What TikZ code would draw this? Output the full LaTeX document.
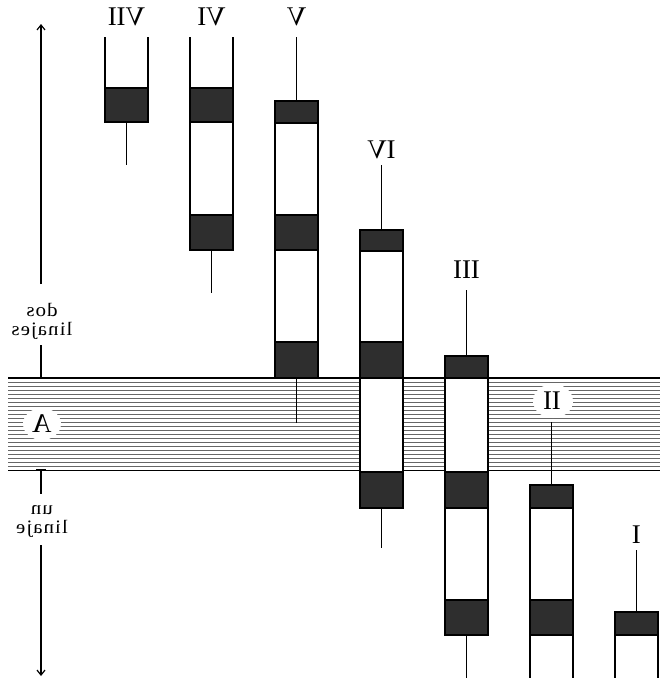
\documentclass[tikz,border=0pt]{standalone}
\usepackage{graphicx}
\usepackage{fontspec}
\setmainfont{Liberation Serif}
\newfontfamily\spacedserif[LetterSpace=5]{Liberation Serif}
\usetikzlibrary{arrows.meta}
\tikzset{
  dark/.style={fill=black!82, draw=black, line width=1.8pt},
  pale/.style={fill=white, draw=black, line width=1.8pt},
  side/.style={draw=black, line width=1.8pt},
  stem/.style={draw=black, line width=1.7pt},
  hatch/.style={draw=black!60, line width=0.6pt},
  numeral/.style={font=\fontsize{27}{27}\selectfont, inner sep=1pt},
  note/.style={font=\spacedserif\fontsize{19}{19}\selectfont, align=center, inner sep=0pt},
  clearing/.style={fill=white, draw=none},
  axis/.style={draw=black, line width=1.2pt},
}
% mirrored lettering
\newcommand\mirrortext[1]{\scalebox{-1}[1]{#1}}
\newcommand\mirrorwide[1]{\scalebox{-1.1}[1]{#1}}

\begin{document}
\begin{tikzpicture}[x=1pt,y=-1pt]
\useasboundingbox (0,0) rectangle (668,678);

% ---- hatched band ----
\foreach \yy in {382,386,...,466}
  \draw[hatch] (8,\yy) -- (660,\yy);
\draw[line width=1.8pt] (8,378) -- (660,378);
\draw[line width=1pt] (8,470) -- (660,470);

% clearings in the band for the labels
\fill[clearing] (42,424) ellipse [x radius=19, y radius=16];
\fill[clearing] (553,401) ellipse [x radius=20, y radius=17];

% ---- column VII ----
\draw[side] (105,37) -- (105,88) (148,37) -- (148,88);
\draw[dark] (105,88) rectangle (148,122);
\coordinate (s7a) at (126.5,122); \coordinate (s7b) at (126.5,165);
\draw[stem] (s7a) -- (s7b);

% ---- column VI ----
\draw[side] (190,37) -- (190,88) (233,37) -- (233,88);
\draw[dark] (190,88) rectangle (233,122);
\draw[pale] (190,122) rectangle (233,215);
\draw[dark] (190,215) rectangle (233,250);
\coordinate (s6a) at (211.5,250); \coordinate (s6b) at (211.5,293);
\draw[stem] (s6a) -- (s6b);

% ---- column V ----
\coordinate (s5a) at (296.5,37); \coordinate (s5b) at (296.5,101);
\draw[stem] (s5a) -- (s5b);
\draw[dark] (275,101) rectangle (318,123);
\draw[pale] (275,123) rectangle (318,215);
\draw[dark] (275,215) rectangle (318,250);
\draw[pale] (275,250) rectangle (318,342);
\draw[dark] (275,342) rectangle (318,378);
\coordinate (s5c) at (296.5,378); \coordinate (s5d) at (296.5,423);
\draw[stem] (s5c) -- (s5d);

% ---- column IV ----
\draw[dark] (360,230) rectangle (403,251);
\draw[pale] (360,251) rectangle (403,342);
\draw[dark] (360,342) rectangle (403,378);
\draw[pale] (360,378) rectangle (403,472);
\draw[dark] (360,472) rectangle (403,508);
\coordinate (s4b) at (381.5,508); \coordinate (s4c) at (381.5,548);
\draw[stem] (s4b) -- (s4c);

% ---- column III ----
\draw[dark] (445,356) rectangle (488,378);
\draw[pale] (445,378) rectangle (488,472);
\draw[dark] (445,472) rectangle (488,508);
\draw[pale] (445,508) rectangle (488,600);
\draw[dark] (445,600) rectangle (488,635);
\coordinate (s3b) at (466.5,635); \coordinate (s3c) at (466.5,678);
\draw[stem] (s3b) -- (s3c);

% ---- column II ----
\draw[dark] (530,485) rectangle (573,508);
\draw[pale] (530,508) rectangle (573,600);
\draw[dark] (530,600) rectangle (573,635);
\draw[side] (530,635) -- (530,678) (573,635) -- (573,678);

% ---- column I ----
\draw[dark] (615,612) rectangle (658,635);
\draw[side] (615,635) -- (615,678) (658,635) -- (658,678);

% ---- numerals ----
\node[numeral] (n7) at (126.5,17) {\mirrortext{VII}};
\node[numeral] (n6) at (211.5,17) {\mirrortext{VI}};
\node[numeral] (n5) at (296.5,17) {\mirrortext{V}};
\node[numeral] (n4) at (381.5,150) {\mirrortext{IV}};
\node[numeral] (n3) at (466.5,270) {\mirrortext{III}};
\node[numeral] (n2) at (552,401) {\mirrortext{II}};
\node[numeral] (n1) at (636.5,535) {\mirrortext{I}};
\node[numeral] (na) at (42,424) {\mirrortext{A}};

% stems hanging from the upper numerals
\coordinate (s4a) at (381.5,165);
\draw[stem] (s4a) -- (381.5,230);
\coordinate (s3a) at (466.5,290);
\draw[stem] (s3a) -- (466.5,356);
\coordinate (s2a) at (551.5,422);
\draw[stem] (s2a) -- (551.5,485);
\coordinate (s1a) at (636.5,550);
\draw[stem] (s1a) -- (636.5,612);

% ---- lineage axis on the left ----
\node[note, anchor=base] (two) at (42,335) {\mirrorwide{dos}\\\mirrorwide{linajes}};
\node[note, anchor=base] (one) at (42,533) {\mirrorwide{un}\\\mirrorwide{linaje}};
\coordinate (top) at (41,24);
\coordinate (a1) at (41,284);
\coordinate (a2) at (41,345);
\coordinate (bandtop) at (41,378);
\coordinate (bandbot) at (41,470);
\coordinate (a3) at (41,494);
\coordinate (a4) at (41,545);
\coordinate (bot) at (41,676);
\draw[axis, -{Straight Barb[length=5pt,width=8pt]}] (a1) -- (top);
\draw[axis] (a2) -- (bandtop);
\draw[line width=2.4pt] (36,378) -- (46,378);
\draw[axis] (bandbot) -- (a3);
\draw[line width=2.4pt] (36,470) -- (46,470);
\draw[axis, -{Straight Barb[length=5pt,width=8pt]}] (a4) -- (bot);
\end{tikzpicture}
\end{document}
